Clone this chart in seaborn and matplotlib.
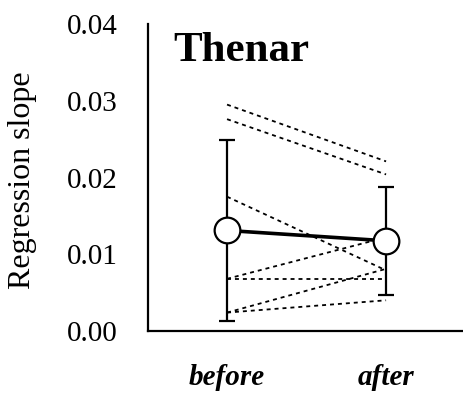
import matplotlib
matplotlib.use("Agg")
import matplotlib.pyplot as plt
import seaborn as sns
import pandas as pd

# Data
conditions = ["before", "after"]
subjects = ["S1", "S2", "S3", "S4", "S5", "S6", "S7"]
before_vals = [0.0295, 0.0276, 0.0175, 0.0068, 0.0068, 0.0024, 0.0024]
after_vals = [0.0221, 0.0204, 0.0079, 0.0122, 0.0068, 0.0081, 0.0040]
mean_vals = [0.0131, 0.01175]
sd_vals = [0.0118, 0.0070]
yticks = [0.00, 0.01, 0.02, 0.03, 0.04]
ytick_labels = ["0.00", "0.01", "0.02", "0.03", "0.04"]

sns.set_theme(style="white")
plt.rcParams["font.family"] = ["Liberation Serif", "DejaVu Serif"]

rows = []
for s, b, a in zip(subjects, before_vals, after_vals):
    rows.append({"subject": s, "x": 0, "value": b})
    rows.append({"subject": s, "x": 1, "value": a})
df = pd.DataFrame(rows)

fig = plt.figure(figsize=(4.64, 3.97), dpi=100)
ax = fig.add_axes([148 / 464, 66 / 397, 316 / 464, 307 / 397])

sns.lineplot(data=df, x="x", y="value", units="subject", estimator=None,
             color="black", linewidth=1.3, ax=ax, legend=False)
for line in ax.lines:
    line.set_dashes((2.2, 2.2))

ax.errorbar([0, 1], mean_vals, yerr=sd_vals, fmt="none", ecolor="black",
            elinewidth=1.6, capsize=5.5, capthick=1.6, zorder=3)
ax.plot([0, 1], mean_vals, color="black", linewidth=2.6, zorder=4)
ax.plot([0, 1], mean_vals, linestyle="none", marker="o", markersize=18.5,
        markerfacecolor="white", markeredgecolor="black", markeredgewidth=1.6,
        zorder=5)

ax.set_xlim(-0.497, 1.49)
ax.set_ylim(0, 0.04)
ax.set_yticks(yticks)
ax.set_yticklabels(ytick_labels, fontsize=21)
ax.set_xticks([0, 1])
ax.set_xticklabels(conditions, fontsize=21, fontweight="bold", fontstyle="italic")
ax.tick_params(axis="y", direction="in", length=7, width=1.5, pad=22, colors="black")
ax.tick_params(axis="x", length=0, pad=24, colors="black")

ax.set_xlabel("")
ax.set_ylabel("Regression slope", fontsize=23, color="black")
ax.yaxis.set_label_coords(-0.35, 0.49)

for side in ["top", "right"]:
    ax.spines[side].set_visible(False)
for side in ["left", "bottom"]:
    ax.spines[side].set_color("black")
    ax.spines[side].set_linewidth(1.6)

ax.text(0.08, 0.878, "Thenar", transform=ax.transAxes, fontsize=31,
        fontweight="bold", color="black", ha="left", va="baseline")

fig.savefig("out.png", dpi=100)
